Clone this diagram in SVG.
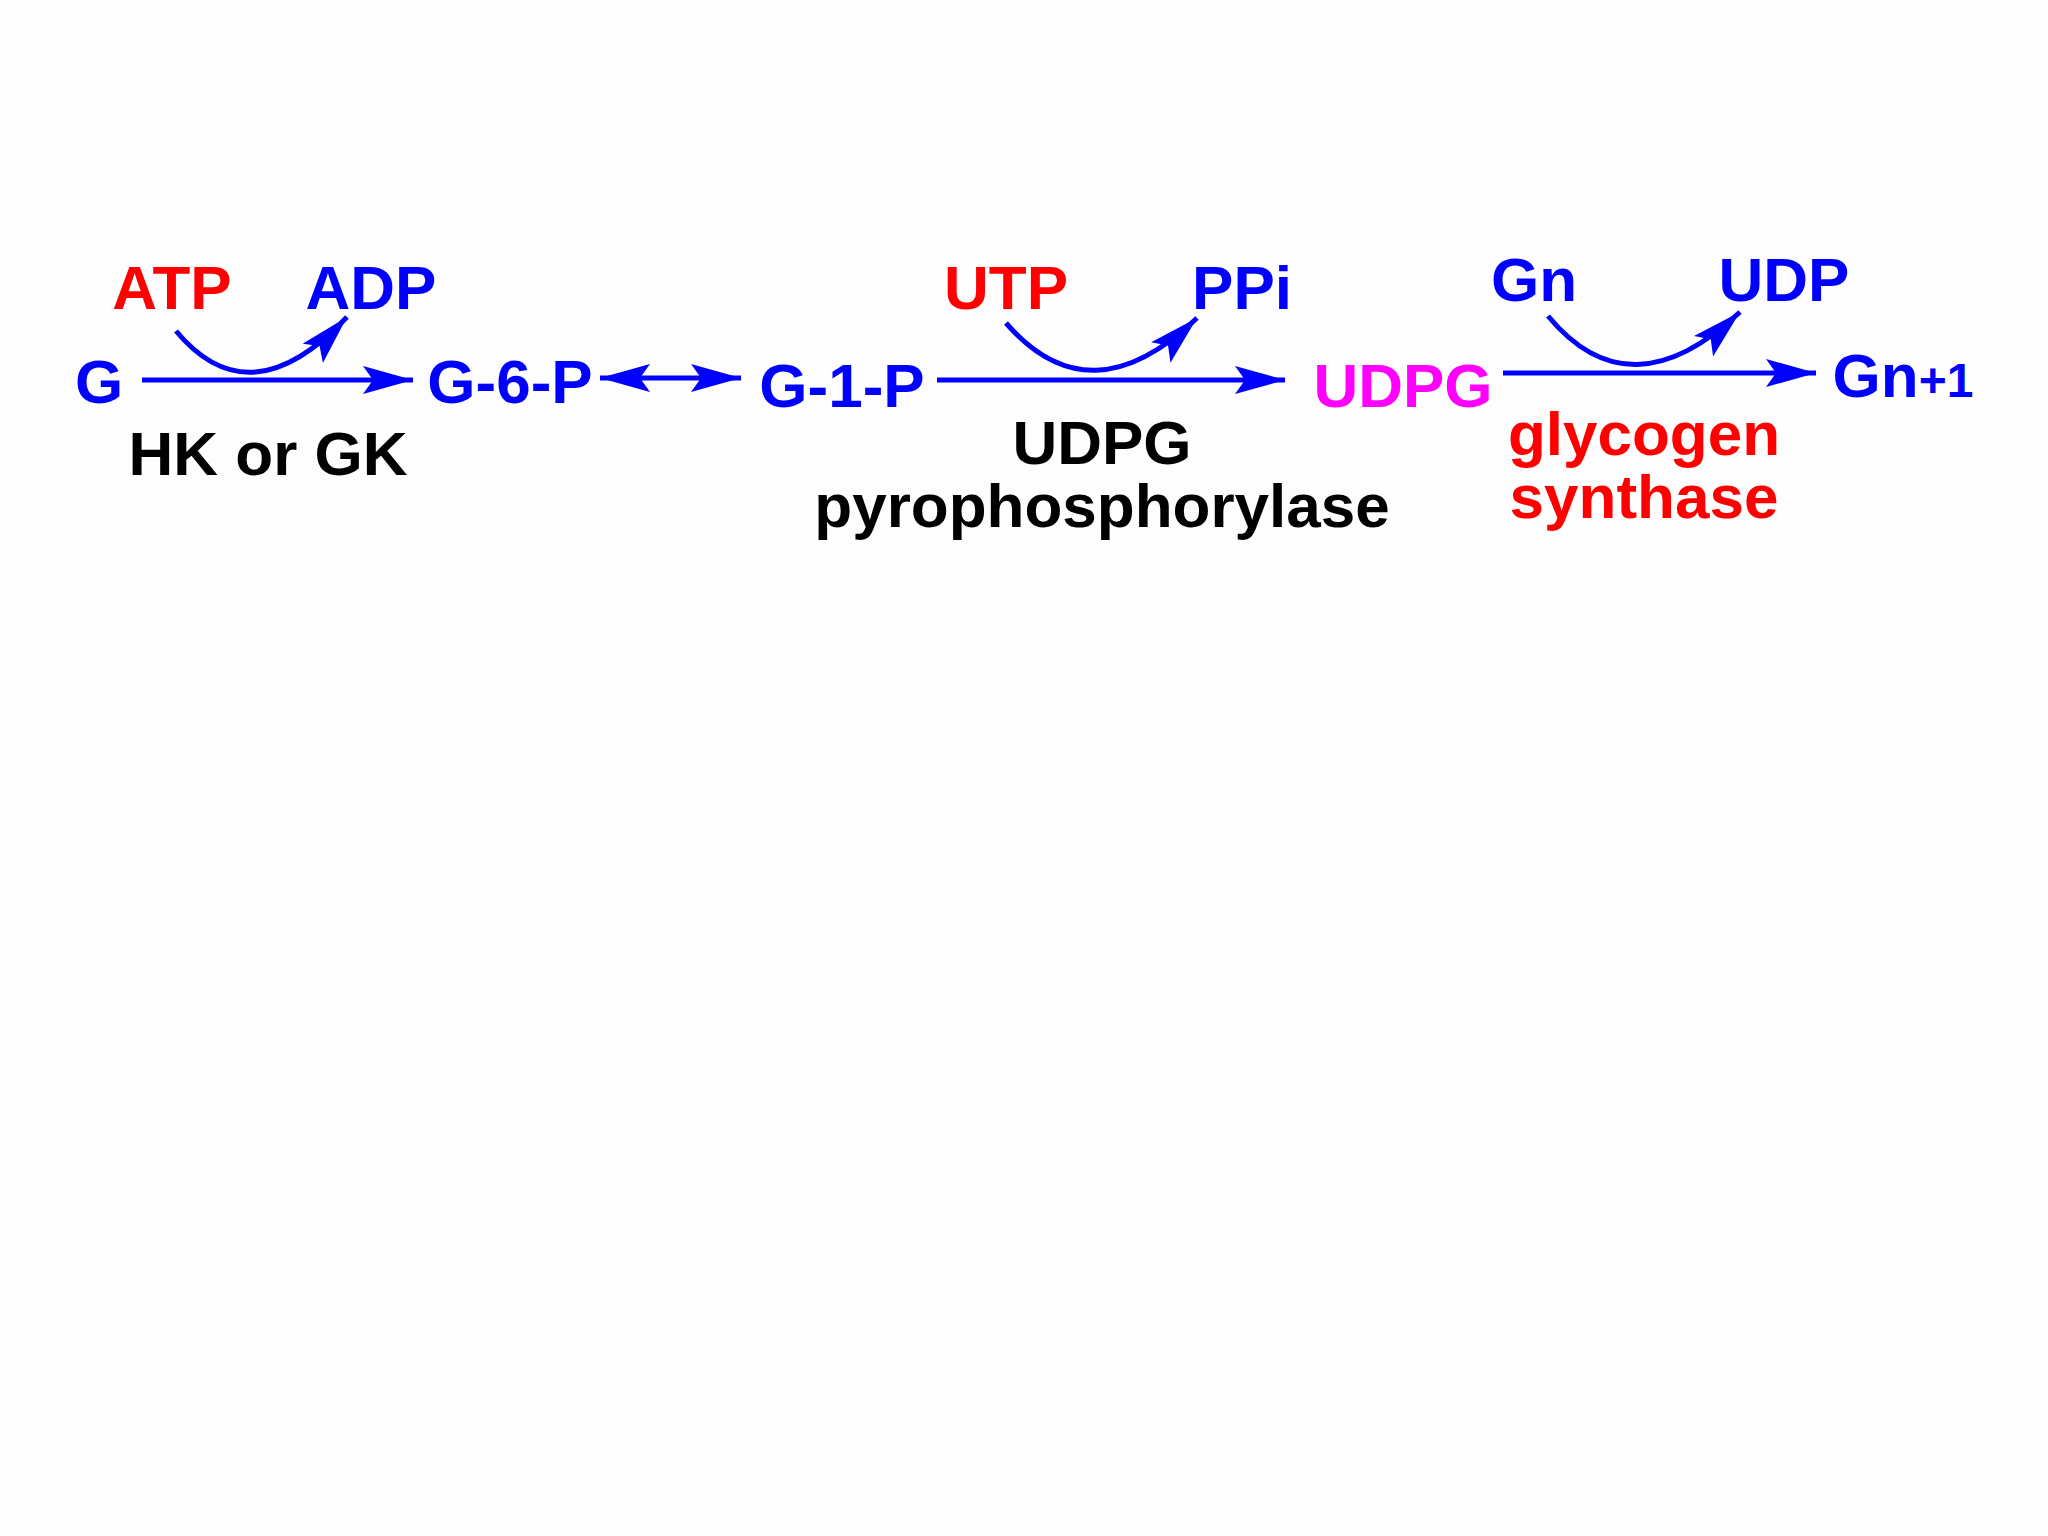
<svg xmlns="http://www.w3.org/2000/svg" width="2048" height="1536" viewBox="0 0 2048 1536">
<style>
text{font-family:"Liberation Sans",Arial,sans-serif;font-weight:bold;font-size:62px;text-anchor:middle}
.b{fill:#0000ff}.r{fill:#ff0000}.k{fill:#000}.m{fill:#ff00ff}
.ln{stroke:#0000ff;stroke-width:5;fill:none}
</style>
<defs>
<marker id="ah" markerUnits="userSpaceOnUse" markerWidth="60" markerHeight="40" refX="50" refY="14" orient="auto-start-reverse" viewBox="0 0 60 40">
<path d="M0,0 L50,14 L0,28 L10,14 Z" fill="#0000ff"/>
</marker>
</defs>
<rect width="2048" height="1536" fill="#fdfdfd"/>
<g id="G"><text class="b" x="99" y="403">G</text></g>
<g id="ATP"><text class="r" x="172" y="309">ATP</text></g>
<g id="ADP"><text class="b" x="371" y="309">ADP</text></g>
<g id="G6P"><text class="b" x="510" y="403">G-6-P</text></g>
<g id="G1P"><text class="b" x="842" y="407">G-1-P</text></g>
<g id="HK"><text class="k" x="268" y="475">HK or GK</text></g>
<g id="UTP"><text class="r" x="1006" y="309">UTP</text></g>
<g id="PPi"><text class="b" x="1242" y="309">PPi</text></g>
<g id="UDPG"><text class="m" x="1403" y="407">UDPG</text></g>
<g id="UDPGP"><text class="k" x="1102" y="464">UDPG</text><text class="k" x="1102" y="527">pyrophosphorylase</text></g>
<g id="Gn"><text class="b" x="1534" y="301">Gn</text></g>
<g id="UDP"><text class="b" x="1784" y="301">UDP</text></g>
<g id="Gn1"><text class="b" x="1903" y="397">Gn<tspan font-size="48">+1</tspan></text></g>
<g id="GS"><text class="r" x="1644" y="455">glycogen</text><text class="r" x="1644" y="518">synthase</text></g>
<g id="connectors">
<line class="ln" x1="142" y1="380" x2="413" y2="380" marker-end="url(#ah)"/>
<path class="ln" d="M176,331 Q250,420 347,317" marker-end="url(#ah)"/>
<line class="ln" x1="600" y1="378" x2="741" y2="378" marker-start="url(#ah)" marker-end="url(#ah)"/>
<line class="ln" x1="937" y1="380" x2="1285" y2="380" marker-end="url(#ah)"/>
<path class="ln" d="M1006,323 Q1090,420 1197,318" marker-end="url(#ah)"/>
<line class="ln" x1="1503" y1="373" x2="1816" y2="373" marker-end="url(#ah)"/>
<path class="ln" d="M1548,316 Q1630,415 1740,312" marker-end="url(#ah)"/>
</g>
</svg>
